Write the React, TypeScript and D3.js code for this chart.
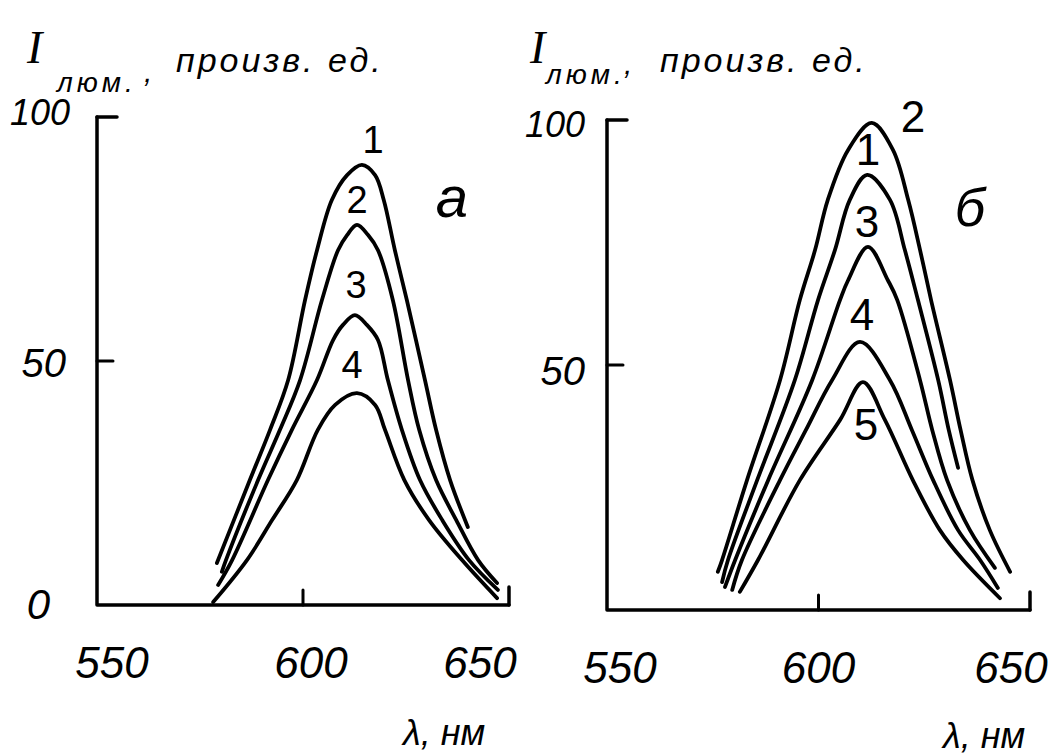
import React from 'react';
import * as d3 from 'd3';

// ---- data (wavelength nm, intensity arb. units) ----
const xTicks = [550, 600, 650];
const yTicksA = [0, 50, 100];
const yTicksB = [50, 100];

// panel а
const curveA1: [number, number][] = [[579.1, 8.6], [587.1, 25.6], [592.0, 35.9], [596.4, 46.1], [600.5, 62.5], [603.4, 72.7], [607.0, 83.0], [610.7, 88.1], [614.3, 90.2], [617.5, 88.1], [619.6, 83.0], [622.3, 72.7], [625.2, 62.5], [629.6, 46.1], [632.3, 35.9], [635.7, 25.6], [640.0, 16.0]];
const curveA2: [number, number][] = [[580.3, 6.8], [581.3, 9.2], [589.1, 25.6], [594.4, 35.9], [599.3, 46.1], [604.6, 62.5], [608.5, 72.7], [610.7, 75.8], [613.1, 77.9], [615.8, 75.8], [618.2, 72.7], [621.8, 62.5], [625.5, 46.1], [628.2, 35.9], [632.3, 25.6], [637.2, 17.4], [642.5, 9.2], [647.1, 4.5]];
const curveA3: [number, number][] = [[579.4, 4.1], [582.8, 9.2], [591.5, 25.6], [597.3, 35.9], [603.4, 46.1], [607.3, 54.3], [609.7, 57.4], [612.6, 59.4], [615.5, 57.4], [618.2, 54.3], [620.6, 46.1], [624.0, 35.9], [628.4, 25.6], [633.8, 17.4], [640.3, 9.2], [647.3, 3.1]];
const curveA4: [number, number][] = [[578.2, 0.6], [586.4, 9.2], [592.5, 17.4], [598.5, 25.6], [603.6, 35.9], [607.8, 41.0], [613.1, 43.4], [617.5, 41.0], [619.9, 35.9], [624.6, 25.6], [630.6, 17.4], [638.6, 9.2], [647.1, 1.4]];

// panel б
const curveB2: [number, number][] = [[576.2, 7.8], [577.2, 10.2], [583.1, 26.5], [590.9, 46.9], [595.6, 63.3], [599.2, 73.5], [602.2, 83.7], [607.0, 93.9], [612.6, 99.4], [617.6, 93.9], [621.2, 83.7], [624.0, 73.5], [626.6, 63.3], [631.1, 46.9], [633.6, 36.7], [636.4, 26.5], [640.5, 16.3], [645.3, 7.8]];
const curveB1: [number, number][] = [[577.2, 5.7], [578.6, 10.2], [585.5, 26.5], [594.4, 46.9], [599.9, 63.3], [603.9, 73.5], [607.4, 83.7], [611.5, 88.8], [616.9, 83.7], [620.4, 73.5], [623.5, 63.3], [628.3, 46.9], [630.8, 36.7], [633.0, 29.0]];
const curveB3: [number, number][] = [[577.9, 4.7], [580.3, 10.2], [588.1, 26.5], [598.5, 46.9], [605.1, 63.3], [607.0, 67.3], [611.7, 74.1], [616.4, 67.3], [618.6, 63.3], [624.0, 46.9], [626.9, 36.7], [630.4, 26.5], [635.8, 16.3], [641.7, 8.6]];
const curveB4: [number, number][] = [[579.6, 4.1], [581.9, 10.2], [590.9, 26.5], [597.0, 36.7], [603.2, 46.9], [609.8, 54.7], [616.9, 46.9], [622.1, 36.7], [627.1, 26.5], [633.0, 16.3], [638.2, 10.2], [642.4, 4.5]];
const curveB5: [number, number][] = [[581.4, 3.7], [585.7, 10.2], [595.6, 26.5], [605.1, 38.8], [610.5, 46.5], [615.7, 38.8], [622.3, 26.5], [628.7, 16.3], [634.2, 10.2], [642.9, 2.4]];

const seriesA = [curveA1, curveA2, curveA3, curveA4];
const seriesB = [curveB2, curveB1, curveB3, curveB4, curveB5];
const namesA = ['1', '2', '3', '4'];
const namesB = ['2', '1', '3', '4', '5'];

// ---- layout ----
const panels = [
  {
    series: seriesA, names: namesA, letter: 'а', yTicks: yTicksA,
    xr: [97, 509], yr: [605, 117],
    tickDx: [15, 8, -29],
    yLab: { 0: [50, 14, 42], 50: [66, 16, 40], 100: [70, 8, 36] } as Record<number, number[]>,
    labelPos: [[373, 153], [357, 213], [356, 298], [352, 378]],
    labelSize: 38,
    letterPos: [452, 217], letterSize: 58,
    title: { I: 27, sub: 57, comma: 144, text: 176, base: 63, subBase: 92, textBase: 72 },
    xTitle: [403, 745],
  },
  {
    series: seriesB, names: namesB, letter: 'б', yTicks: yTicksB,
    xr: [607, 1030], yr: [610, 120],
    tickDx: [13, 0, -19],
    yLab: { 50: [585, 20, 40], 100: [585, 17, 36] } as Record<number, number[]>,
    labelPos: [[913, 132], [868, 165], [867, 237], [862, 330], [866, 440]],
    labelSize: 44,
    letterPos: [970, 226], letterSize: 54,
    title: { I: 530, sub: 546, comma: 624, text: 660, base: 63, subBase: 84, textBase: 72 },
    xTitle: [943, 748],
  },
];

const font = '"Liberation Sans", Arial, sans-serif';

const Panel = ({ p }: { p: any }) => {
  const x = d3.scaleLinear().domain([550, 650]).range(p.xr);
  const y = d3.scaleLinear().domain([0, 100]).range(p.yr);
  const line = d3.line<[number, number]>()
    .x(d => x(d[0]))
    .y(d => y(d[1]))
    .curve(d3.curveCatmullRom.alpha(0.5));

  const t = p.title;
  return (
    <g fill="none" stroke="#000" strokeLinecap="round" strokeLinejoin="round">
      {/* axes */}
      <path d={`M${x(550)},${y(100)}V${y(0)}H${x(650)}`} strokeWidth={3.5} />
      <path d={`M${x(550)},${y(100)}h20`} strokeWidth={3.5} />
      <path d={`M${x(550)},${y(50)}h16`} strokeWidth={3} />
      <path d={`M${x(600)},${y(0)}v-15`} strokeWidth={3} />
      <path d={`M${x(650)},${y(0)}v-18`} strokeWidth={3.5} />

      {p.series.map((s: [number, number][], i: number) => (
        <path key={i} d={line(s) || ''} strokeWidth={3.8} />
      ))}

      <g stroke="none" fill="#000" fontFamily={font} fontStyle="italic">
        {xTicks.map((v, i) => (
          <text key={v} x={x(v) + p.tickDx[i]} y={y(0) + 73} fontSize={44} textAnchor="middle">{v}</text>
        ))}
        {p.yTicks.map((v: number) => (
          <text key={v} x={p.yLab[v][0]} y={y(v) + p.yLab[v][1]} fontSize={p.yLab[v][2]} textAnchor="end">{v}</text>
        ))}
        {p.names.map((n: string, i: number) => (
          <text key={i} x={p.labelPos[i][0]} y={p.labelPos[i][1]} fontSize={p.labelSize} fontStyle="normal" textAnchor="middle">{n}</text>
        ))}
        <text x={p.letterPos[0]} y={p.letterPos[1]} fontSize={p.letterSize} textAnchor="middle">{p.letter}</text>

        <text x={t.I} y={t.base} fontSize={46} fontFamily='"Liberation Serif", serif'>I</text>
        <text x={t.sub} y={t.subBase} fontSize={28} letterSpacing={4}>люм.</text>
        <text x={t.comma} y={t.subBase - 10} fontSize={30}>,</text>
        <text x={t.text} y={t.textBase} fontSize={34} letterSpacing={3}>произв. ед.</text>

        <text x={p.xTitle[0]} y={p.xTitle[1]} fontSize={36}>λ, нм</text>
      </g>
    </g>
  );
};

export default function App() {
  return (
    <svg width={1062} height={756} style={{ position: 'absolute', left: 0, top: 0, background: '#fff' }}>
      <rect width={1062} height={756} fill="#fff" />
      {panels.map((p, i) => <Panel key={i} p={p} />)}
    </svg>
  );
}
